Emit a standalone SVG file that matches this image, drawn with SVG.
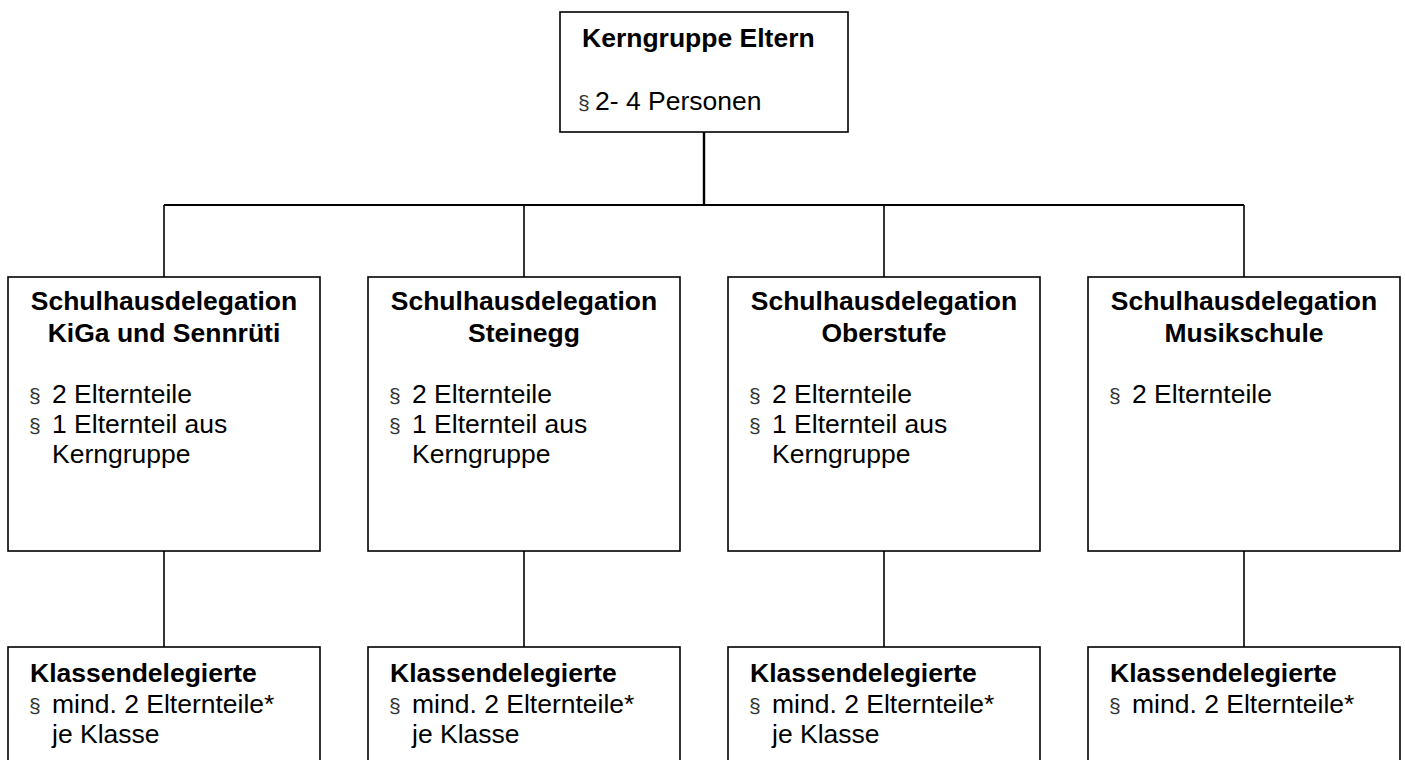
<svg xmlns="http://www.w3.org/2000/svg" width="1405" height="760" viewBox="0 0 1405 760">
<style>
.box{fill:#fff;stroke:#000;stroke-width:1.6}
.t{font-family:"Liberation Sans",Arial,sans-serif;font-size:26.5px;fill:#000}
.b{font-weight:bold}
.s{font-family:"Liberation Sans",Arial,sans-serif;font-size:21px;fill:#333}
.c{fill:none;stroke:#000;stroke-width:1.6}
</style>
<rect width="1405" height="760" fill="#fff"/>
<g id="connectors">
<line class="c" x1="704" y1="132" x2="704" y2="205" style="stroke-width:2.4"/>
<line class="c" x1="164" y1="205" x2="1244" y2="205" style="stroke-width:2"/>
<line class="c" x1="164" y1="205" x2="164" y2="277"/>
<line class="c" x1="524" y1="205" x2="524" y2="277"/>
<line class="c" x1="884" y1="205" x2="884" y2="277"/>
<line class="c" x1="1244" y1="205" x2="1244" y2="277"/>
<line class="c" x1="164" y1="551" x2="164" y2="647"/>
<line class="c" x1="524" y1="551" x2="524" y2="647"/>
<line class="c" x1="884" y1="551" x2="884" y2="647"/>
<line class="c" x1="1244" y1="551" x2="1244" y2="647"/>
</g>
<g id="kerngruppe">
<rect class="box" x="560" y="12" width="288" height="120"/>
<text class="t b" x="582" y="47">Kerngruppe Eltern</text>
<text class="s" x="578" y="110">§</text>
<text class="t" x="595" y="110">2- 4 Personen</text>
</g>
<g id="sd1">
<rect class="box" x="8" y="277" width="312" height="274"/>
<text class="t b" x="164" y="310" text-anchor="middle">Schulhausdelegation</text>
<text class="t b" x="164" y="342" text-anchor="middle">KiGa und Sennrüti</text>
<text class="s" x="29" y="403">§</text><text class="t" x="52" y="403">2 Elternteile</text>
<text class="s" x="29" y="433">§</text><text class="t" x="52" y="433">1 Elternteil aus</text>
<text class="t" x="52" y="463">Kerngruppe</text>
</g>
<g id="sd2">
<rect class="box" x="368" y="277" width="312" height="274"/>
<text class="t b" x="524" y="310" text-anchor="middle">Schulhausdelegation</text>
<text class="t b" x="524" y="342" text-anchor="middle">Steinegg</text>
<text class="s" x="389" y="403">§</text><text class="t" x="412" y="403">2 Elternteile</text>
<text class="s" x="389" y="433">§</text><text class="t" x="412" y="433">1 Elternteil aus</text>
<text class="t" x="412" y="463">Kerngruppe</text>
</g>
<g id="sd3">
<rect class="box" x="728" y="277" width="312" height="274"/>
<text class="t b" x="884" y="310" text-anchor="middle">Schulhausdelegation</text>
<text class="t b" x="884" y="342" text-anchor="middle">Oberstufe</text>
<text class="s" x="749" y="403">§</text><text class="t" x="772" y="403">2 Elternteile</text>
<text class="s" x="749" y="433">§</text><text class="t" x="772" y="433">1 Elternteil aus</text>
<text class="t" x="772" y="463">Kerngruppe</text>
</g>
<g id="sd4">
<rect class="box" x="1088" y="277" width="312" height="274"/>
<text class="t b" x="1244" y="310" text-anchor="middle">Schulhausdelegation</text>
<text class="t b" x="1244" y="342" text-anchor="middle">Musikschule</text>
<text class="s" x="1109" y="403">§</text><text class="t" x="1132" y="403">2 Elternteile</text>
</g>
<g id="kd1">
<rect class="box" x="8" y="647" width="312" height="130"/>
<text class="t b" x="30" y="682">Klassendelegierte</text>
<text class="s" x="29" y="713">§</text><text class="t" x="52" y="713">mind. 2 Elternteile*</text>
<text class="t" x="52" y="743">je Klasse</text>
</g>
<g id="kd2">
<rect class="box" x="368" y="647" width="312" height="130"/>
<text class="t b" x="390" y="682">Klassendelegierte</text>
<text class="s" x="389" y="713">§</text><text class="t" x="412" y="713">mind. 2 Elternteile*</text>
<text class="t" x="412" y="743">je Klasse</text>
</g>
<g id="kd3">
<rect class="box" x="728" y="647" width="312" height="130"/>
<text class="t b" x="750" y="682">Klassendelegierte</text>
<text class="s" x="749" y="713">§</text><text class="t" x="772" y="713">mind. 2 Elternteile*</text>
<text class="t" x="772" y="743">je Klasse</text>
</g>
<g id="kd4">
<rect class="box" x="1088" y="647" width="312" height="130"/>
<text class="t b" x="1110" y="682">Klassendelegierte</text>
<text class="s" x="1109" y="713">§</text><text class="t" x="1132" y="713">mind. 2 Elternteile*</text>
</g>
</svg>
